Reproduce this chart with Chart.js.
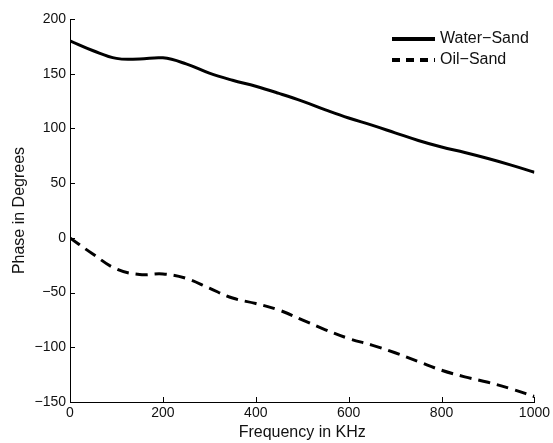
<!DOCTYPE html>
<html>
<head>
<meta charset="utf-8">
<script src="https://cdn.jsdelivr.net/npm/chart.js@4"></script>
<style>
  html, body { margin: 0; padding: 0; background: #fff; }
  #wrap { width: 553px; height: 443px; }
</style>
</head>
<body>
<div id="wrap"><canvas id="phaseChart"></canvas></div>
<script>
const frequencies = [0, 50, 100, 150, 200, 250, 300, 350, 400, 450, 500, 550, 600, 650, 700, 750, 800, 850, 900, 950, 1000];
const waterSand = [180, 171, 164, 163.5, 164.5, 159, 150.5, 144, 138.5, 132, 125, 117, 109.5, 103, 96, 89, 83, 78, 72.5, 66.5, 60];
const oilSand = [0, -15, -28.5, -33.5, -33, -37, -46, -55, -60, -66, -75, -84, -92, -98, -105, -113, -121, -127, -132, -138, -145];
const xTicks = [0, 200, 400, 600, 800, 1000];
const yTicks = [-150, -100, -50, 0, 50, 100, 150, 200];

const font = { family: "'Liberation Sans', Arial, sans-serif", size: 14 };
const titleFont = { family: "'Liberation Sans', Arial, sans-serif", size: 16 };

// matlab style inward ticks on the left and bottom axes
const inwardTicks = {
    id: 'inwardTicks',
    afterDraw(chart) {
        const c = chart.ctx;
        const a = chart.chartArea;
        const x = chart.scales.x, y = chart.scales.y;
        c.save();
        c.strokeStyle = '#000';
        c.lineWidth = 1;
        c.beginPath();
        yTicks.forEach(v => {
            const py = Math.round(y.getPixelForValue(v)) + 0.5;
            c.moveTo(a.left, py);
            c.lineTo(a.left + 5, py);
        });
        xTicks.forEach(v => {
            const px = Math.round(x.getPixelForValue(v)) + 0.5;
            c.moveTo(px, a.bottom);
            c.lineTo(px, a.bottom - 5);
        });
        c.stroke();
        c.restore();
    }
};

const cornerLegend = {
    id: 'cornerLegend',
    afterDraw(chart) {
        const c = chart.ctx;
        const rows = [
            { label: 'Water\u2212Sand', y: 39, dash: [] },
            { label: 'Oil\u2212Sand', y: 60, dash: [8, 6] }
        ];
        c.save();
        c.font = `16px ${font.family}`;
        c.textBaseline = 'middle';
        rows.forEach(r => {
            c.strokeStyle = '#000';
            c.lineWidth = 4;
            c.setLineDash(r.dash);
            c.beginPath();
            c.moveTo(392, r.y);
            c.lineTo(435, r.y);
            c.stroke();
            c.setLineDash([]);
            c.fillStyle = '#111';
            c.fillText(r.label, 440, r.y);
        });
        c.restore();
    }
};

const minusLabel = v => String(v).replace('-', '\u2212');

new Chart(document.getElementById('phaseChart'), {
    type: 'line',
    data: {
        datasets: [
            {
                label: 'Water-Sand',
                data: frequencies.map((f, i) => ({ x: f, y: waterSand[i] })),
                borderColor: '#000',
                borderWidth: 3,
                pointRadius: 0,
                tension: 0.4
            },
            {
                label: 'Oil-Sand',
                data: frequencies.map((f, i) => ({ x: f, y: oilSand[i] })),
                borderColor: '#000',
                borderWidth: 3,
                borderDash: [12, 7],
                pointRadius: 0,
                tension: 0.4
            }
        ]
    },
    options: {
        responsive: true,
        maintainAspectRatio: false,
        animation: false,
        layout: { padding: { top: 19, right: 15, left: 0, bottom: 0 } },
        plugins: {
            legend: { display: false },
            tooltip: { enabled: false }
        },
        scales: {
            x: {
                type: 'linear',
                min: 0,
                max: 1000,
                afterFit(scale) { scale.height = 41; },
                afterBuildTicks(scale) { scale.ticks = xTicks.map(v => ({ value: v })); },
                grid: { display: false, tickLength: 0 },
                border: { display: true, color: '#000', width: 1 },
                ticks: { color: '#111', font: font, padding: 3, maxRotation: 0, callback: v => String(v) },
                title: { display: true, text: 'Frequency in KHz', color: '#111', font: titleFont, padding: { top: 0, bottom: 1 } }
            },
            y: {
                min: -150,
                max: 200,
                afterFit(scale) { scale.width = 70; },
                afterBuildTicks(scale) { scale.ticks = yTicks.map(v => ({ value: v })); },
                grid: { display: false, tickLength: 0 },
                border: { display: true, color: '#000', width: 1 },
                ticks: { color: '#111', font: font, padding: 4, callback: minusLabel },
                title: { display: true, text: 'Phase in Degrees', color: '#111', font: titleFont, padding: { top: 10, bottom: 0 } }
            }
        }
    },
    plugins: [inwardTicks, cornerLegend]
});
</script>
</body>
</html>
